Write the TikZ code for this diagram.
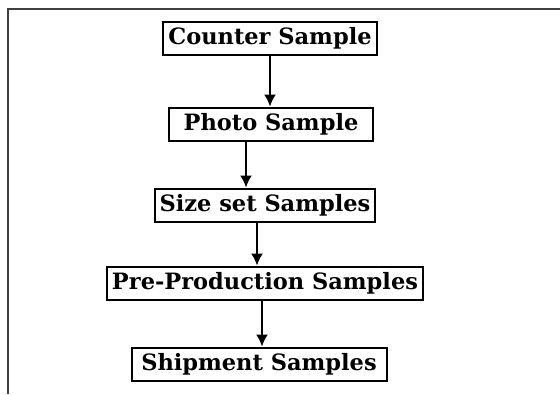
\documentclass[tikz,border=0pt]{standalone}
\usepackage{fontspec}
\newfontfamily\stagefont{DejaVu Serif}
\usetikzlibrary{arrows.meta}

\begin{document}
\begin{tikzpicture}[x=1pt,y=-1pt]
\tikzstyle{stage}=[draw,line width=2pt,font=\stagefont\bfseries\fontsize{22.5}{26}\selectfont,inner xsep=5pt,inner ysep=0pt,minimum height=33pt]
\tikzstyle{edge} = [draw,line width=1.6pt,-{Latex[length=12pt,width=12pt]}]
\tikzstyle{border} = [draw,line width=2pt,black!75]
\useasboundingbox (0,0) rectangle (560,394);
\coordinate (top) at (560,9);
\coordinate (foot) at (8,394);
\path[border] (foot) |- (top);
\node[stage] (1) at (270,38) {Counter Sample};
\node[stage,minimum width=204pt] (2) at (271,124) {Photo Sample};
\node[stage] (3) at (265,205) {Size set Samples};
\node[stage] (4) at (265,283) {Pre-Production Samples};
\node[stage,minimum width=255pt] (5) at (259,364) {Shipment Samples};
\path[edge] (1) -- (1 |- 2.north);
\path[edge] ([xshift=-25pt]2.south) -- ([xshift=-25pt]2.south |- 3.north);
\path[edge] ([xshift=-8pt]3.south) -- ([xshift=-8pt]3.south |- 4.north);
\path[edge] ([xshift=-3pt]4.south) -- ([xshift=-3pt]4.south |- 5.north);
\end{tikzpicture}
\end{document}
